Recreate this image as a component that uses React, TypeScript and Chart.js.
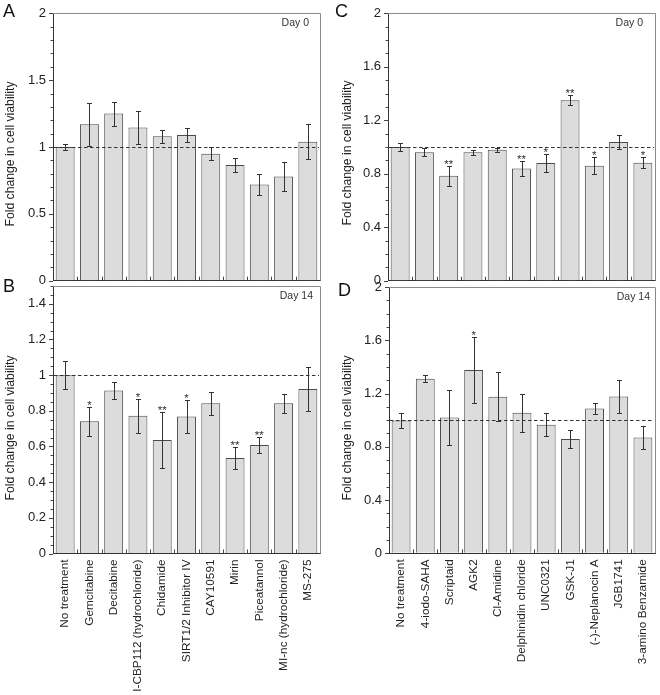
import React, { useEffect, useRef } from 'react';
import { Chart, registerables } from 'chart.js';

Chart.register(...registerables);

// ---------- data ----------
const categoriesAB = [
  'No treatment', 'Gemcitabine', 'Decitabine', 'I-CBP112 (hydrochloride)', 'Chidamide',
  'SIRT1/2 Inhibitor IV', 'CAY10591', 'Mirin', 'Piceatannol', 'MI-nc (hydrochloride)', 'MS-275',
];
const categoriesCD = [
  'No treatment', '4-iodo-SAHA', 'Scriptaid', 'AGK2', 'Cl-Amidine', 'Delphinidin chloride',
  'UNC0321', 'GSK-J1', '(-)-Neplanocin A', 'JGB1741', '3-amino Benzamide',
];

const valuesA = [1.0, 1.17, 1.25, 1.145, 1.08, 1.09, 0.95, 0.865, 0.72, 0.78, 1.04];
const errorsA = [0.025, 0.16, 0.09, 0.125, 0.05, 0.055, 0.05, 0.055, 0.08, 0.11, 0.13];
const starsA = ['', '', '', '', '', '', '', '', '', '', ''];

const valuesB = [1.0, 0.742, 0.914, 0.772, 0.637, 0.768, 0.843, 0.536, 0.609, 0.843, 0.923];
const errorsB = [0.077, 0.081, 0.05, 0.094, 0.158, 0.09, 0.065, 0.06, 0.043, 0.053, 0.122];
const starsB = ['', '*', '', '*', '**', '*', '', '**', '**', '', ''];

const valuesC = [1.0, 0.96, 0.785, 0.96, 0.98, 0.84, 0.88, 1.35, 0.86, 1.0375, 0.8825];
const errorsC = [0.027, 0.03, 0.075, 0.02, 0.016, 0.055, 0.068, 0.039, 0.063, 0.052, 0.042];
const starsC = ['', '', '**', '', '', '**', '*', '**', '*', '', '*'];

const valuesD = [0.9975, 1.31, 1.02, 1.3775, 1.175, 1.055, 0.965, 0.8575, 1.0875, 1.1775, 0.87];
const errorsD = [0.056, 0.026, 0.204, 0.25, 0.184, 0.144, 0.086, 0.07, 0.044, 0.124, 0.086];
const starsD = ['', '', '', '*', '', '', '', '', '', '', ''];

const yTicksA = [0, 0.5, 1, 1.5, 2];
const yTicksB = [0, 0.2, 0.4, 0.6, 0.8, 1, 1.2, 1.4];
const yTicksC = [0, 0.4, 0.8, 1.2, 1.6, 2];
const yTicksD = [0, 0.4, 0.8, 1.2, 1.6, 2];

const yTitle = 'Fold change in cell viability';
const FONT = "'Liberation Sans', Arial, Helvetica, sans-serif";

type PanelCfg = {
  left: number; top: number; width: number; height: number;
  area: { l: number; r: number; t: number; b: number };
  categories: string[]; values: number[]; errors: number[]; stars: string[];
  yMax: number; yTicks: number[]; minorStep: number; showLabels: boolean;
  day: string; dayRight: number; letter: string; letterX: number; letterY: number;
  titleX: number; titleY: number;
};

function Panel({ cfg }: { cfg: PanelCfg }) {
  const ref = useRef<HTMLCanvasElement | null>(null);
  useEffect(() => {
    if (!ref.current) return;
    const c = cfg;
    const decor = {
      id: 'decor',
      afterDatasetsDraw(chart: any) {
        const { ctx, chartArea: a, scales } = chart;
        const x = scales.x;
        const y = scales.y;
        ctx.save();
        // frame top/right
        ctx.strokeStyle = '#8a8a8a';
        ctx.lineWidth = 1;
        ctx.beginPath();
        ctx.moveTo(a.left, Math.round(a.top) + 0.5);
        ctx.lineTo(Math.round(a.right) + 0.5, Math.round(a.top) + 0.5);
        ctx.lineTo(Math.round(a.right) + 0.5, a.bottom);
        ctx.stroke();
        // y ticks (major + minor), outward
        ctx.strokeStyle = '#444';
        const n = Math.round(c.yMax / c.minorStep);
        for (let k = 0; k <= n; k++) {
          const v = k * c.minorStep;
          const major = c.yTicks.some((t) => Math.abs(t - v) < 1e-6);
          const py = Math.round(y.getPixelForValue(v)) + 0.5;
          const len = major ? 4 : 2.5;
          ctx.beginPath();
          ctx.moveTo(a.left - len, py);
          ctx.lineTo(a.left, py);
          ctx.stroke();
        }
        // x boundary ticks, inward
        for (let i = 1; i < c.categories.length; i++) {
          const px = Math.round((x.getPixelForValue(i - 1) + x.getPixelForValue(i)) / 2) + 0.5;
          ctx.beginPath();
          ctx.moveTo(px, a.bottom);
          ctx.lineTo(px, a.bottom - 4);
          ctx.stroke();
        }
        // dashed reference line at 1
        const y1 = Math.round(y.getPixelForValue(1)) + 0.5;
        ctx.strokeStyle = '#333';
        ctx.setLineDash([3.5, 2.5]);
        ctx.beginPath();
        ctx.moveTo(a.left + 1, y1);
        ctx.lineTo(a.right - 1, y1);
        ctx.stroke();
        ctx.setLineDash([]);
        // error bars + stars
        const meta = chart.getDatasetMeta(0);
        ctx.strokeStyle = '#333';
        ctx.fillStyle = '#333';
        ctx.font = `11.5px ${FONT}`;
        ctx.textAlign = 'center';
        ctx.textBaseline = 'alphabetic';
        meta.data.forEach((bar: any, i: number) => {
          const v = c.values[i];
          const e = c.errors[i];
          const bx = Math.round(bar.x) + 0.5;
          const yt = Math.round(y.getPixelForValue(v + e)) + 0.5;
          const yb = Math.round(y.getPixelForValue(v - e)) + 0.5;
          ctx.beginPath();
          ctx.moveTo(bx, yt); ctx.lineTo(bx, yb);
          ctx.moveTo(bx - 2.5, yt); ctx.lineTo(bx + 2.5, yt);
          ctx.moveTo(bx - 2.5, yb); ctx.lineTo(bx + 2.5, yb);
          ctx.stroke();
          if (c.stars[i]) ctx.fillText(c.stars[i], bar.x, yt + 1.5);
        });
        // day label
        ctx.fillStyle = '#333';
        ctx.font = `10.5px ${FONT}`;
        ctx.textAlign = 'right';
        ctx.textBaseline = 'middle';
        ctx.fillText(c.day, c.dayRight, a.top + 10);
        // panel letter
        ctx.fillStyle = '#111';
        ctx.font = `18px ${FONT}`;
        ctx.textAlign = 'left';
        ctx.textBaseline = 'alphabetic';
        ctx.fillText(c.letter, c.letterX, c.letterY);
        // y title
        ctx.save();
        ctx.translate(c.titleX, c.titleY);
        ctx.rotate(-Math.PI / 2);
        ctx.fillStyle = '#222';
        ctx.font = `12.2px ${FONT}`;
        ctx.textAlign = 'center';
        ctx.textBaseline = 'middle';
        ctx.fillText(yTitle, 0, 0);
        ctx.restore();
        ctx.restore();
      },
    };
    const chart = new Chart(ref.current, {
      type: 'bar',
      data: {
        labels: c.categories,
        datasets: [{
          data: c.values,
          backgroundColor: '#dcdcdc',
          borderColor: '#4a4a4a',
          borderWidth: 1,
          barPercentage: 0.78,
          categoryPercentage: 1,
        }],
      },
      options: {
        responsive: false,
        animation: false,
        devicePixelRatio: 1,
        layout: { padding: { top: c.area.t, right: c.width - c.area.r, left: 0, bottom: 0 } },
        plugins: { legend: { display: false }, tooltip: { enabled: false } },
        scales: {
          x: {
            type: 'category',
            grid: { display: true, drawOnChartArea: false, drawTicks: true, tickLength: 3, color: 'rgba(0,0,0,0)' },
            border: { display: true, color: '#333', width: 1 },
            ticks: {
              display: c.showLabels,
              autoSkip: false,
              minRotation: 90,
              maxRotation: 90,
              padding: 3,
              color: '#222',
              font: { family: FONT, size: 11.8 },
            },
            afterFit: (s: any) => {
              s.height = c.height - c.area.b;
              s.paddingLeft = 0;
              s.paddingRight = 0;
            },
          },
          y: {
            type: 'linear',
            min: 0,
            max: c.yMax,
            grid: { display: true, drawOnChartArea: false, drawTicks: true, tickLength: 4, color: 'rgba(0,0,0,0)' },
            border: { display: true, color: '#333', width: 1 },
            ticks: {
              padding: 3,
              color: '#222',
              font: { family: FONT, size: 13 },
              callback: (v: any) => String(Math.round(Number(v) * 10) / 10),
            },
            afterBuildTicks: (s: any) => {
              s.ticks = c.yTicks.map((v) => ({ value: v }));
            },
            afterFit: (s: any) => {
              s.width = c.area.l;
              s.paddingTop = 0;
              s.paddingBottom = 0;
            },
          },
        },
      },
      plugins: [decor],
    } as any);
    return () => chart.destroy();
  }, [cfg]);
  return (
    <canvas
      ref={ref}
      width={cfg.width}
      height={cfg.height}
      style={{ position: 'absolute', left: cfg.left, top: cfg.top, width: cfg.width, height: cfg.height }}
    />
  );
}

const panels: PanelCfg[] = [
  {
    left: 0, top: 0, width: 330, height: 295,
    area: { l: 53, r: 320, t: 13.3, b: 280.7 },
    categories: categoriesAB, values: valuesA, errors: errorsA, stars: starsA,
    yMax: 2, yTicks: yTicksA, minorStep: 0.1, showLabels: false,
    day: 'Day 0', dayRight: 309, letter: 'A', letterX: 3, letterY: 17,
    titleX: 11, titleY: 154,
  },
  {
    left: 0, top: 270, width: 330, height: 425,
    area: { l: 53, r: 320, t: 16, b: 283.5 },
    categories: categoriesAB, values: valuesB, errors: errorsB, stars: starsB,
    yMax: 1.5, yTicks: yTicksB, minorStep: 0.05, showLabels: true,
    day: 'Day 14', dayRight: 313, letter: 'B', letterX: 3, letterY: 22,
    titleX: 11, titleY: 158,
  },
  {
    left: 330, top: 0, width: 330, height: 295,
    area: { l: 58, r: 325, t: 13.3, b: 280.7 },
    categories: categoriesCD, values: valuesC, errors: errorsC, stars: starsC,
    yMax: 2, yTicks: yTicksC, minorStep: 0.1, showLabels: false,
    day: 'Day 0', dayRight: 313, letter: 'C', letterX: 5, letterY: 17,
    titleX: 18, titleY: 153,
  },
  {
    left: 330, top: 270, width: 330, height: 425,
    area: { l: 59, r: 325, t: 17, b: 283.3 },
    categories: categoriesCD, values: valuesD, errors: errorsD, stars: starsD,
    yMax: 2, yTicks: yTicksD, minorStep: 0.1, showLabels: true,
    day: 'Day 14', dayRight: 320, letter: 'D', letterX: 8, letterY: 26,
    titleX: 18, titleY: 158,
  },
];

export default function App() {
  return (
    <div style={{ position: 'absolute', left: 0, top: 0, width: 660, height: 695, background: '#fff', overflow: 'hidden' }}>
      {panels.map((p, i) => (
        <Panel key={i} cfg={p} />
      ))}
    </div>
  );
}
